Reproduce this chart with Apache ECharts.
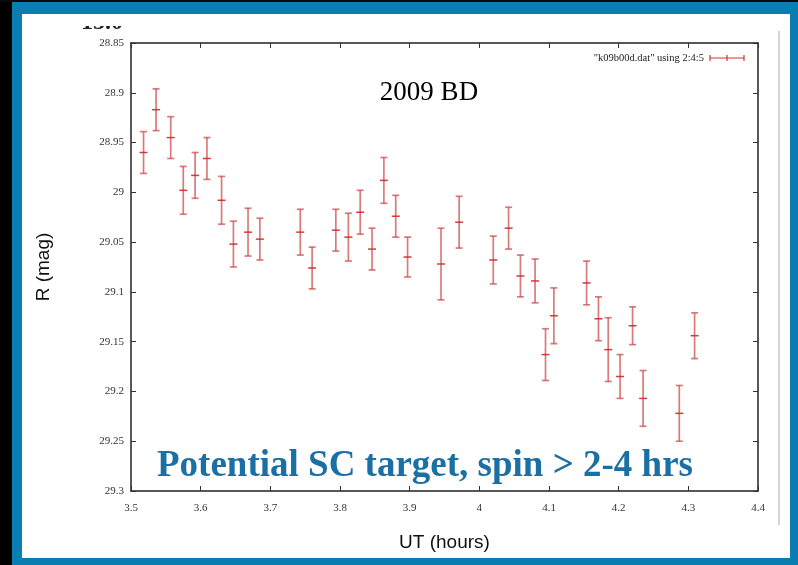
<!DOCTYPE html>
<html>
<head>
<meta charset="utf-8">
<script src="https://cdn.jsdelivr.net/npm/echarts@6/dist/echarts.min.js"></script>
<style>html,body{margin:0;padding:0;background:#fff}#c{width:798px;height:565px}</style>
</head>
<body>
<div id="c"></div>
<script>
// UT (hours)
var ut = [3.518,3.536,3.557,3.575,3.592,3.609,3.630,3.647,3.668,3.685,
          3.743,3.760,3.794,3.812,3.829,3.846,3.863,3.880,3.897,3.945,
          3.971,4.020,4.042,4.059,4.080,4.095,4.107,4.154,4.171,4.185,
          4.202,4.220,4.235,4.287,4.309];
// R magnitude
var mag = [28.960,28.917,28.945,28.998,28.983,28.966,29.008,29.052,29.040,29.047,
           29.040,29.076,29.038,29.045,29.020,29.057,28.988,29.024,29.065,29.072,
           29.030,29.068,29.036,29.084,29.089,29.163,29.124,29.091,29.127,29.158,
           29.185,29.134,29.207,29.222,29.144];
// error (mag)
var err = [0.021,0.021,0.021,0.024,0.023,0.021,0.024,0.023,0.024,0.021,
           0.023,0.021,0.021,0.024,0.022,0.021,0.023,0.021,0.020,0.036,
           0.026,0.024,0.021,0.021,0.022,0.026,0.028,0.022,0.022,0.032,
           0.022,0.019,0.028,0.028,0.023];
var xTicks = [3.5,3.6,3.7,3.8,3.9,4,4.1,4.2,4.3,4.4];
var yTicks = [28.85,28.9,28.95,29,29.05,29.1,29.15,29.2,29.25,29.3];

var data = ut.map(function(x,i){return [x, mag[i], err[i]];});
var chart = echarts.init(document.getElementById('c'), null, {renderer:'canvas'});
var serif = '"Liberation Serif","Times New Roman",serif';
var sans = '"Liberation Sans",Arial,sans-serif';
var barColor = 'rgba(205,70,70,0.72)';

function renderErr(params, api){
  var x = api.value(0), y = api.value(1), e = api.value(2);
  var c = api.coord([x,y]), t = api.coord([x,y-e]), b = api.coord([x,y+e]);
  var st = {stroke: barColor, lineWidth: 1.7};
  return {type:'group', children:[
    {type:'line', shape:{x1:t[0],y1:t[1],x2:b[0],y2:b[1]}, style:st},
    {type:'line', shape:{x1:t[0]-3.5,y1:t[1],x2:t[0]+3.5,y2:t[1]}, style:st},
    {type:'line', shape:{x1:b[0]-3.5,y1:b[1],x2:b[0]+3.5,y2:b[1]}, style:st},
    {type:'line', shape:{x1:c[0]-4,y1:c[1],x2:c[0]+4,y2:c[1]}, style:{stroke:'rgba(205,40,40,0.9)',lineWidth:1.5}}
  ]};
}
function fmt(v){ return String(parseFloat(Number(v).toFixed(2))); }

var axisLine = {show:true, lineStyle:{color:'#222', width:1.5}};
var axisTick = {show:true, inside:true, length:5, lineStyle:{color:'#333', width:1}};

chart.setOption({
  animation:false,
  backgroundColor:'#ffffff',
  grid:{left:131, top:43, right:40, bottom:74},
  xAxis:[
    {type:'value', min:3.5, max:4.4, interval:0.1, position:'bottom',
     axisLine:axisLine, axisTick:axisTick, splitLine:{show:false},
     axisLabel:{fontFamily:serif, fontSize:11, color:'#333', margin:12, formatter:fmt},
     name:'UT (hours)', nameLocation:'middle', nameGap:42,
     nameTextStyle:{fontFamily:sans, fontSize:19, color:'#111'}},
    {type:'value', min:3.5, max:4.4, interval:0.1, position:'top',
     axisLine:axisLine, axisTick:axisTick, splitLine:{show:false}, axisLabel:{show:false}}
  ],
  yAxis:[
    {type:'value', inverse:true, min:28.85, max:29.3, interval:0.05, position:'left',
     axisLine:axisLine, axisTick:axisTick, splitLine:{show:false},
     axisLabel:{fontFamily:serif, fontSize:11, color:'#333', margin:7, formatter:fmt},
     name:'R (mag)', nameLocation:'middle', nameGap:78, nameRotate:90,
     nameTextStyle:{fontFamily:sans, fontSize:19, color:'#111'}},
    {type:'value', inverse:true, min:28.85, max:29.3, interval:0.05, position:'right',
     axisLine:axisLine, axisTick:axisTick, splitLine:{show:false}, axisLabel:{show:false}}
  ],
  series:[{type:'custom', renderItem:renderErr, data:data, xAxisIndex:0, yAxisIndex:0, z:5}],
  graphic:[
    // slide frame
    {type:'rect', z:-10, shape:{x:0,y:0,width:798,height:565}, style:{fill:'#0a7db2'}},
    {type:'rect', z:-9, shape:{x:0,y:0,width:12,height:565}, style:{fill:'#000'}},
    {type:'rect', z:-9, shape:{x:0,y:0,width:798,height:2}, style:{fill:'#0a0a0a'}},
    {type:'rect', z:-8, shape:{x:22,y:14,width:768,height:544}, style:{fill:'#fff'}},
    // clipped artifact text
    {type:'text', z:1, x:81, y:35, style:{text:'15.0', font:'bold 24px '+serif, fill:'#222', textVerticalAlign:'bottom'}},
    {type:'rect', z:30, shape:{x:70,y:10,width:70,height:16}, style:{fill:'#fff'}},
    {type:'rect', z:30, shape:{x:70,y:10,width:70,height:4}, style:{fill:'#0a7db2'}},
    // grey image edge
    {type:'line', z:-5, shape:{x1:779,y1:31,x2:779,y2:525}, style:{stroke:'#aaa',lineWidth:1}},
    // titles
    {type:'text', z:10, x:429, y:93, style:{text:'2009 BD', font:'27px '+serif, fill:'#000', textAlign:'center', textVerticalAlign:'middle'}},
    {type:'text', z:10, x:425, y:466, style:{text:'Potential SC target, spin > 2-4 hrs', font:'bold 37px '+serif, fill:'#1a70a5', textAlign:'center', textVerticalAlign:'middle'}},
    // legend
    {type:'text', z:10, x:704, y:58, style:{text:'"k09b00d.dat" using 2:4:5', font:'10.5px '+serif, fill:'#222', textAlign:'right', textVerticalAlign:'middle'}},
    {type:'line', z:10, shape:{x1:710,y1:58,x2:744,y2:58}, style:{stroke:'#d83030',lineWidth:1.2}},
    {type:'line', z:10, shape:{x1:710,y1:55,x2:710,y2:61}, style:{stroke:'#d83030',lineWidth:1.2}},
    {type:'line', z:10, shape:{x1:744,y1:55,x2:744,y2:61}, style:{stroke:'#d83030',lineWidth:1.2}},
    {type:'line', z:10, shape:{x1:727,y1:55,x2:727,y2:61}, style:{stroke:'#d83030',lineWidth:1.2}}
  ]
});
</script>
</body>
</html>
